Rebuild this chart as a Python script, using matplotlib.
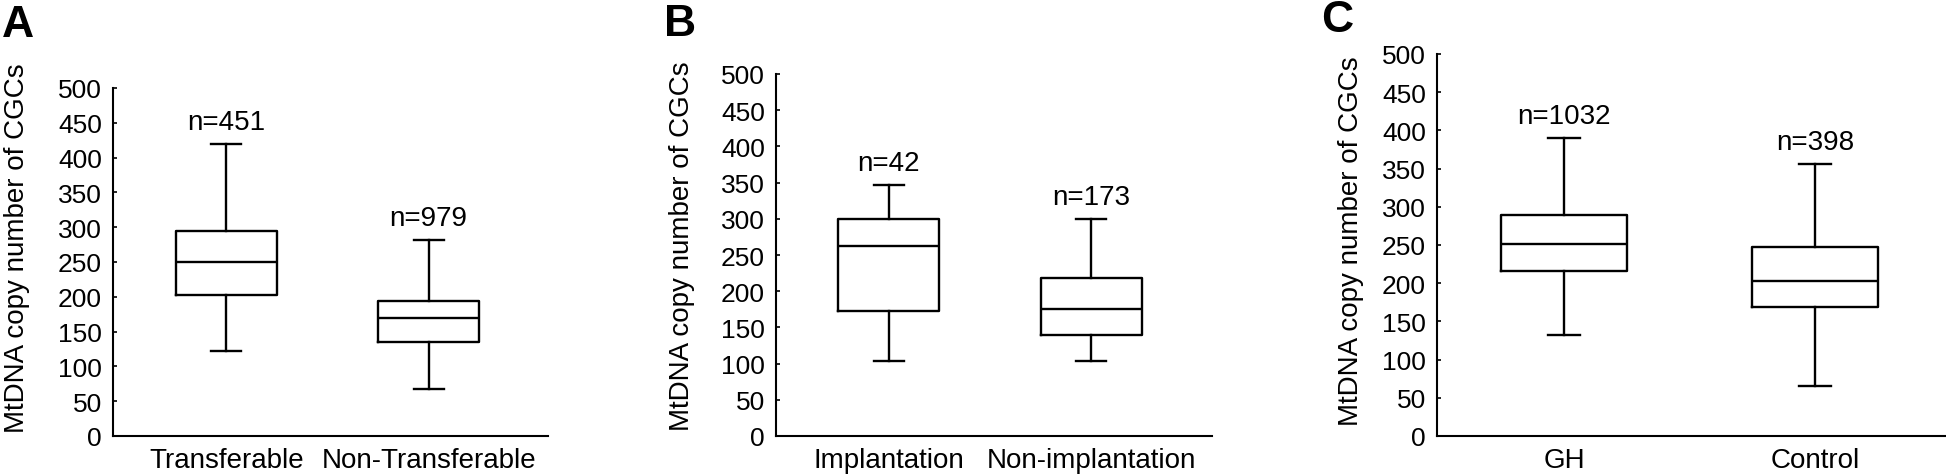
import matplotlib
matplotlib.use("Agg")
import matplotlib.pyplot as plt

plt.rcParams['font.family'] = ['Liberation Sans', 'DejaVu Sans']

# ---- data ----
panel_letters = ["A", "B", "C"]
categories_A = ["Transferable", "Non-Transferable"]
categories_B = ["Implantation", "Non-implantation"]
categories_C = ["GH", "Control"]

# whisker low, Q1, median, Q3, whisker high
stats_A = [[122, 203, 250, 295, 419], [67, 135, 170, 194, 282]]
stats_B = [[103, 173, 263, 300, 346], [103, 140, 175, 218, 300]]
stats_C = [[132, 216, 251, 289, 390], [65, 169, 203, 247, 356]]

n_A = [451, 979]
n_B = [42, 173]
n_C = [1032, 398]

yticks = [0, 50, 100, 150, 200, 250, 300, 350, 400, 450, 500]
ylabel = "MtDNA copy number of CGCs"

W, H = 1946, 477
fig = plt.figure(figsize=(W / 100, H / 100), dpi=100)

# layout in pixels: left, right, top(500), bottom(0)
layouts = [
    (113, 548, 89, 437),
    (776, 1212, 75, 437),
    (1437, 1946, 55, 437),
]
xlims = [(0.439, 2.59), (0.443, 2.595), (0.494, 2.522)]
capw = [0.148, 0.148, 0.13]
ylabel_coords = [(-0.221, 0.543), (-0.2156, 0.526), (-0.169, 0.513)]
letter_pos = [(2, 37), (664, 36), (1321, 32)]

all_cats = [categories_A, categories_B, categories_C]
all_stats = [stats_A, stats_B, stats_C]
all_n = [n_A, n_B, n_C]

lw = 1.7
fs_tick = 19
fs_text = 20
for i in range(3):
    l, r, t, b = layouts[i]
    ax = fig.add_axes([l / W, (H - b) / H, (r - l) / W, (b - t) / H])
    bstats = []
    for cat, s in zip(all_cats[i], all_stats[i]):
        bstats.append(dict(label=cat, whislo=s[0], q1=s[1], med=s[2],
                           q3=s[3], whishi=s[4], fliers=[]))
    ax.bxp(bstats, positions=[1, 2], widths=0.5, showfliers=False,
           capwidths=capw[i],
           boxprops=dict(color='black', linewidth=lw),
           medianprops=dict(color='black', linewidth=lw),
           whiskerprops=dict(color='black', linewidth=lw),
           capprops=dict(color='black', linewidth=lw))
    for pos, s, n in zip([1, 2], all_stats[i], all_n[i]):
        ax.annotate(f"n={n}", xy=(pos, s[4]), xytext=(0, 16),
                    textcoords='offset points', ha='center', va='center',
                    fontsize=fs_text)
    ax.set_xlim(*xlims[i])
    ax.set_ylim(0, 500)
    ax.set_yticks(yticks)
    ax.set_yticklabels([str(v) for v in yticks])
    ax.tick_params(axis='y', direction='in', length=3, width=1.2,
                   labelsize=fs_tick, pad=8)
    ax.tick_params(axis='x', length=0, labelsize=fs_text, pad=8)
    for sp in ['top', 'right']:
        ax.spines[sp].set_visible(False)
    for sp in ['left', 'bottom']:
        ax.spines[sp].set_linewidth(1.5)
    ax.set_ylabel(ylabel, fontsize=20, va='center')
    ax.yaxis.set_label_coords(*ylabel_coords[i])
    lx, ly = letter_pos[i]
    fig.text(lx / W, 1 - ly / H, panel_letters[i], fontsize=32,
             fontweight='bold', ha='left', va='baseline')

fig.savefig("out.png", dpi=100)
